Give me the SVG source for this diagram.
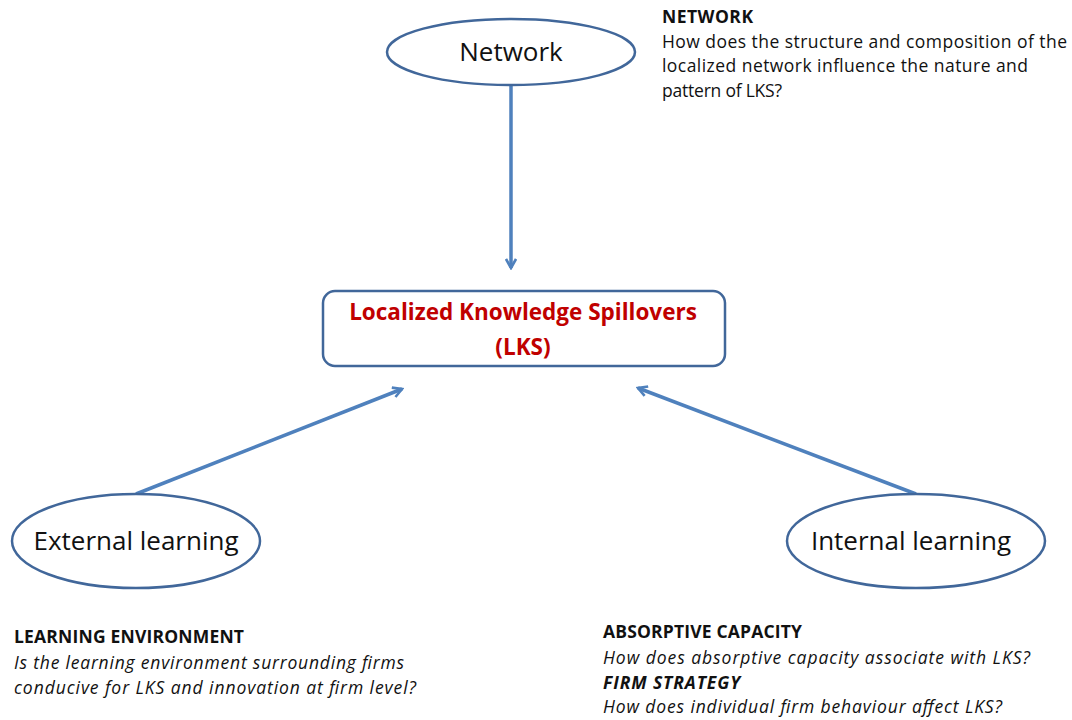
<svg xmlns="http://www.w3.org/2000/svg" width="1072" height="720" viewBox="0 0 1072 720">
<defs>
<style>
.node{fill:#fff;stroke:#41679a;stroke-width:2.5}
.lbl{font-family:"Open Sans","Liberation Sans",sans-serif;fill:#111;text-anchor:middle;font-size:26px}
.conn{stroke:#4f81bd;stroke-width:3.5;fill:none}
.t{font-family:"Open Sans","Liberation Sans",sans-serif;font-size:17.5px;fill:#111}
.b{font-weight:bold}
.i{font-style:italic}
.title{font-family:"Open Sans","Liberation Sans",sans-serif;font-size:22.5px;font-weight:bold;fill:#c00000;text-anchor:middle}
</style>
<marker id="arr" viewBox="0 0 12 12" refX="10" refY="6" markerWidth="12" markerHeight="12" markerUnits="userSpaceOnUse" orient="auto">
<path d="M1,1 L10,6 L1,11" fill="none" stroke="#4f81bd" stroke-width="2.6" stroke-linejoin="miter"/>
</marker>
</defs>
<rect width="1072" height="720" fill="#fff"/>
<g id="connectors">
<line class="conn" x1="511" y1="85" x2="511" y2="268" marker-end="url(#arr)"/>
<line class="conn" x1="136" y1="494" x2="402" y2="389" marker-end="url(#arr)"/>
<line class="conn" x1="916" y1="494" x2="638" y2="388" marker-end="url(#arr)"/>
</g>
<g id="network">
<ellipse class="node" cx="511" cy="52" rx="124" ry="33"/>
<text class="lbl" x="511" y="61">Network</text>
</g>
<g id="lks">
<rect class="node" x="323" y="291" width="402" height="75" rx="12"/>
<text class="title" x="523" y="320">Localized Knowledge Spillovers</text>
<text class="title" x="523" y="355">(LKS)</text>
</g>
<g id="external">
<ellipse class="node" cx="136" cy="541" rx="124" ry="47"/>
<text class="lbl" x="136" y="550">External learning</text>
</g>
<g id="internal">
<ellipse class="node" cx="916" cy="541" rx="129" ry="47"/>
<text class="lbl" x="911" y="550">Internal learning</text>
</g>
<g id="network-note">
<text class="t b" x="662" y="23" textLength="91">NETWORK</text>
<text class="t" x="662" y="48" textLength="405">How does the structure and composition of the</text>
<text class="t" x="662" y="72" textLength="366">localized network influence the nature and</text>
<text class="t" x="662" y="97" textLength="120">pattern of LKS?</text>
</g>
<g id="learning-note">
<text class="t b" x="14" y="643" textLength="230">LEARNING ENVIRONMENT</text>
<text class="t i" x="14" y="669" textLength="390">Is the learning environment surrounding firms</text>
<text class="t i" x="14" y="694" textLength="402">conducive for LKS and innovation at firm level?</text>
</g>
<g id="absorptive-note">
<text class="t b" x="603" y="638" textLength="199">ABSORPTIVE CAPACITY</text>
<text class="t i" x="603" y="664" textLength="427">How does absorptive capacity associate with LKS?</text>
<text class="t b i" x="603" y="689" textLength="137">FIRM STRATEGY</text>
<text class="t i" x="603" y="713" textLength="399">How does individual firm behaviour affect LKS?</text>
</g>
</svg>
